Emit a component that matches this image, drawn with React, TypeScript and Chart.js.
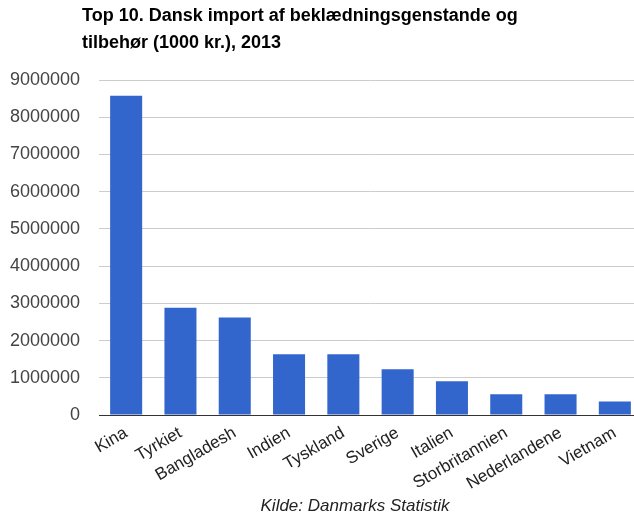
import React, { useEffect, useRef } from "react";
import { Chart, registerables } from "chart.js";

Chart.register(...registerables);

const titleLines = [
  "Top 10. Dansk import af beklædningsgenstande og",
  "tilbehør (1000 kr.), 2013",
];
const sourceText = "Kilde: Danmarks Statistik";
const categories = [
  "Kina",
  "Tyrkiet",
  "Bangladesh",
  "Indien",
  "Tyskland",
  "Sverige",
  "Italien",
  "Storbritannien",
  "Nederlandene",
  "Vietnam",
];
const importValues = [
  8580000, 2880000, 2620000, 1630000, 1630000, 1230000, 910000, 560000, 560000,
  360000,
];
const yMax = 9000000;
const yStep = 1000000;

const FONT = "'Liberation Sans', Arial, sans-serif";

export default function App() {
  const canvasRef = useRef<HTMLCanvasElement | null>(null);

  useEffect(() => {
    const canvas = canvasRef.current;
    if (!canvas) return;
    const chart = new Chart(canvas, {
      type: "bar",
      data: {
        labels: categories,
        datasets: [
          {
            data: importValues,
            backgroundColor: "#3366cc",
            borderWidth: 0,
            categoryPercentage: 1,
            barPercentage: 0.59,
          },
        ],
      },
      options: {
        responsive: false,
        animation: false,
        devicePixelRatio: 1,
        layout: { padding: { top: 80, right: 8, left: 0, bottom: 0 } },
        plugins: {
          legend: { display: false },
          tooltip: { enabled: false },
          title: { display: false },
        },
        scales: {
          x: {
            grid: { display: false, drawTicks: false },
            border: { display: true, color: "#333333", width: 1 },
            ticks: {
              autoSkip: false,
              maxRotation: 30,
              minRotation: 30,
              padding: 8,
              color: "#222222",
              font: { family: FONT, size: 17 },
            },
            afterFit: (scale: any) => {
              scale.height = 101;
            },
          },
          y: {
            min: 0,
            max: yMax,
            border: { display: false },
            grid: {
              drawTicks: false,
              color: (ctx: any) =>
                ctx.tick && ctx.tick.value === 0 ? "#333333" : "#cccccc",
              lineWidth: 1,
            },
            ticks: {
              stepSize: yStep,
              padding: 19,
              color: "#444444",
              font: { family: FONT, size: 18 },
              callback: (v: any) => String(v),
            },
            afterFit: (scale: any) => {
              scale.width = 99;
            },
          },
        },
      },
    });
    return () => chart.destroy();
  }, []);

  return (
    <div
      style={{
        position: "fixed",
        left: 0,
        top: 0,
        width: 634,
        height: 516,
        overflow: "hidden",
        background: "#ffffff",
      }}
    >
      <canvas
        ref={canvasRef}
        width={650}
        height={516}
        style={{ display: "block", position: "absolute", left: 0, top: 0 }}
      />
      <div
        style={{
          position: "absolute",
          left: 82,
          top: 2,
          fontFamily: FONT,
          fontWeight: "bold",
          fontSize: 18,
          lineHeight: "27px",
          color: "#000000",
          whiteSpace: "nowrap",
        }}
      >
        {titleLines.map((l, i) => (
          <div key={i}>{l}</div>
        ))}
      </div>
      <div
        style={{
          position: "absolute",
          left: 0,
          width: 710,
          top: 496,
          textAlign: "center",
          fontFamily: FONT,
          fontStyle: "italic",
          fontSize: 17,
          lineHeight: "20px",
          color: "#222222",
          whiteSpace: "nowrap",
        }}
      >
        {sourceText}
      </div>
    </div>
  );
}
